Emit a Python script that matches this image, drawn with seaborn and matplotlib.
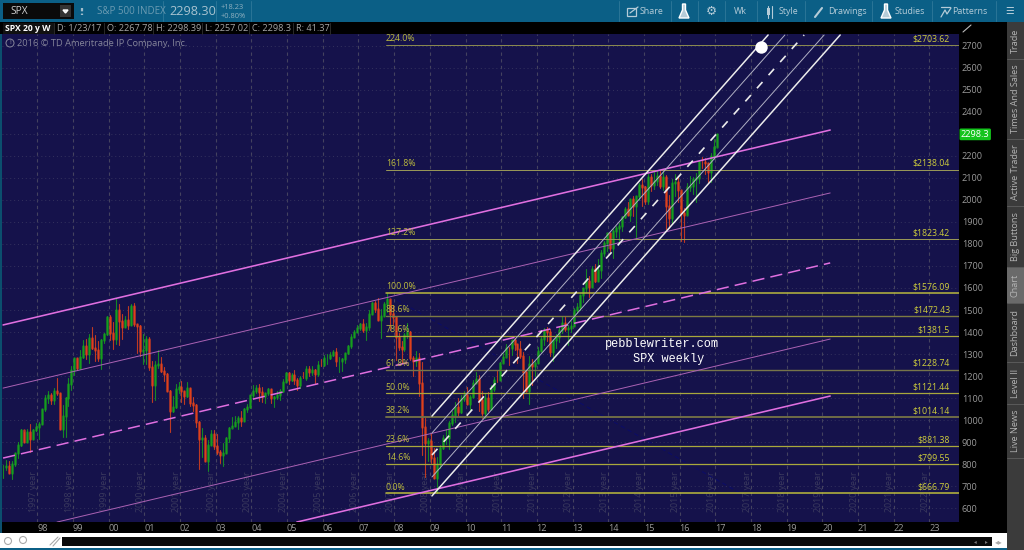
import pandas as pd
import matplotlib
matplotlib.use('Agg')
import matplotlib.pyplot as plt
import matplotlib.transforms as mtrans
from matplotlib.patches import Rectangle, Circle, Polygon
import seaborn as sns
import numpy as np

# month end closes, Jan 1997 -> Jan 2017
close = [786,791,757,801,848,885,954,899,947,915,955,970,
         980,1049,1102,1112,1091,1134,1121,957,1017,1099,1164,1229,
         1280,1238,1286,1335,1302,1373,1329,1320,1283,1363,1389,1469,
         1394,1366,1499,1452,1421,1455,1431,1518,1437,1429,1315,1320,
         1366,1240,1160,1249,1256,1224,1211,1134,1041,1060,1139,1148,
         1130,1107,1147,1077,1067,990,912,916,815,886,936,880,
         856,841,848,917,964,975,990,1008,996,1051,1058,1112,
         1131,1145,1126,1107,1121,1141,1102,1104,1115,1130,1174,1212,
         1181,1204,1181,1157,1192,1191,1234,1220,1229,1207,1249,1248,
         1280,1281,1295,1311,1270,1270,1277,1304,1336,1378,1401,1418,
         1438,1407,1421,1482,1531,1503,1455,1474,1527,1549,1481,1468,
         1379,1331,1323,1386,1400,1280,1267,1283,1166,969,896,903,
         826,735,798,873,919,919,987,1021,1057,1036,1096,1115,
         1074,1104,1169,1187,1089,1031,1102,1049,1141,1183,1181,1258,
         1286,1327,1326,1364,1345,1321,1292,1219,1131,1253,1247,1258,
         1312,1366,1408,1398,1310,1362,1379,1407,1441,1412,1416,1426,
         1498,1515,1569,1598,1631,1606,1686,1633,1682,1757,1806,1848,
         1783,1859,1872,1884,1924,1960,1931,2003,1972,2018,2068,2059,
         1995,2105,2068,2086,2107,2063,2104,1972,1920,2079,2080,2044,
         1940,1932,2060,2065,2097,2099,2174,2171,2168,2126,2199,2239,
         2298]
high = [794,817,815,812,851,898,957,947,960,983,960,986,
        992,1051,1113,1131,1123,1145,1190,1121,1066,1104,1193,1245,
        1284,1284,1317,1362,1368,1391,1421,1386,1361,1370,1397,1473,
        1478,1445,1553,1527,1482,1475,1518,1525,1531,1437,1431,1389,
        1384,1376,1267,1269,1316,1287,1239,1215,1135,1111,1163,1173,
        1176,1131,1174,1147,1106,1075,994,965,933,907,955,955,
        935,865,896,925,966,1015,1016,1019,1040,1054,1071,1112,
        1159,1159,1164,1150,1123,1146,1141,1110,1132,1140,1188,1218,
        1218,1212,1229,1192,1199,1219,1246,1246,1244,1234,1270,1276,
        1295,1298,1310,1319,1326,1285,1281,1306,1340,1390,1407,1432,
        1441,1461,1439,1498,1535,1540,1556,1503,1538,1576,1545,1523,
        1471,1396,1359,1397,1440,1404,1293,1314,1304,1265,1007,917,
        943,875,832,888,930,957,997,1040,1080,1101,1113,1130,
        1151,1113,1181,1220,1206,1132,1120,1129,1159,1197,1228,1263,
        1303,1344,1332,1365,1371,1346,1357,1308,1229,1293,1278,1270,
        1333,1378,1420,1422,1415,1363,1392,1426,1475,1471,1434,1448,
        1510,1531,1570,1598,1687,1654,1698,1710,1730,1772,1814,1849,
        1851,1868,1884,1897,1925,1968,1991,2006,2020,2019,2076,2094,
        2065,2120,2117,2126,2135,2130,2133,2112,2023,2094,2117,2105,
        2039,1962,2076,2111,2104,2121,2178,2194,2193,2170,2214,2278,
        2301]
low = [737,773,757,733,793,829,882,900,899,855,912,948,
       912,980,1042,1077,1075,1074,1113,957,924,923,1065,1137,
       1205,1227,1234,1281,1277,1259,1323,1269,1268,1234,1348,1387,
       1362,1325,1344,1339,1369,1421,1413,1431,1427,1305,1291,1254,
       1254,1228,1081,1091,1237,1218,1178,1131,945,1037,1055,1124,
       1081,1074,1105,1064,1040,968,776,834,815,768,885,870,
       844,806,789,848,901,966,975,960,972,995,1036,1055,
       1100,1125,1087,1083,1076,1113,1079,1060,1095,1090,1127,1173,
       1163,1176,1163,1137,1147,1191,1183,1201,1205,1168,1202,1246,
       1245,1253,1278,1290,1245,1219,1225,1261,1301,1327,1377,1402,
       1410,1400,1364,1408,1481,1490,1455,1371,1473,1489,1407,1436,
       1271,1317,1257,1313,1373,1272,1201,1247,1107,840,741,815,
       805,735,667,783,866,893,869,979,992,1020,1030,1086,
       1072,1045,1105,1170,1040,1011,1011,1040,1050,1131,1173,1180,
       1262,1302,1249,1295,1318,1258,1282,1101,1132,1075,1159,1202,
       1259,1312,1341,1358,1292,1267,1326,1355,1397,1403,1343,1399,
       1426,1485,1501,1537,1581,1560,1605,1628,1633,1646,1747,1768,
       1770,1738,1834,1815,1860,1916,1931,1905,1926,1821,2001,1972,
       1981,1981,2040,2048,2067,2056,2044,1867,1872,1894,2019,1993,
       1812,1810,1938,2039,2025,1992,2075,2147,2120,2084,2084,2187,
       2245]

# fibonacci levels
fib_pct = ['224.0%','161.8%','127.2%','100.0%','88.6%','78.6%','61.8%','50.0%','38.2%','23.6%','14.6%','0.0%']
fib_val = [2703.62,2138.04,1823.42,1576.09,1472.43,1381.5,1228.74,1121.44,1014.14,881.38,799.55,666.79]
fib_txt = ['$2703.62','$2138.04','$1823.42','$1576.09','$1472.43','$1381.5','$1228.74','$1121.44','$1014.14','$881.38','$799.55','$666.79']
fib_col = ['#8d8c50','#9c9b58','#9c9b58','#b9b83f','#7d7b42','#a9a83c','#77754a','#a9a83c','#6f6c46','#a9a83c','#a9a83c','#bdbc3c']
fib_lw = [0.7,0.7,0.7,1.1,1.0,0.9,1.0,0.9,1.4,0.9,0.9,1.1]
fib_start = 2007.77
fib_end = 2023.83

# pink channel (long term), start/end of every line
pink_x0 = [1997.04,1997.04,1997.04,1998.55,2005.27]
pink_y0 = [1432,1145,827,536,536]
pink_x1 = [2020.22,2020.22,2020.22,2020.22,2020.22]
pink_y1 = [2318,2032,1714,1368,1109]
pink_kind = ['thick','thin','dash','thin','thick']

# white channel (since 2009)
white_x0 = [2009.06,2009.06,2009.06,2009.06,2009.06]
white_y0 = [1018,941,841,741,655]
white_x1 = [2018.48,2018.95,2019.49,2020.05,2020.50]
white_y1 = [2750,2750,2750,2750,2750]
white_kind = ['thick','thin','dash','thin','thick']

blue_x = [2008.08,2017.70]
blue_y = [1545,668]
target_x = [2018.28]
target_y = [2695]
last_price = 2298.3

years = list(range(1998,2024))
year_labels = ['98','99','00','01','02','03','04','05','06','07','08','09','10','11','12','13','14','15','16','17','18','19','20','21','22','23']
price_ticks = [600,700,800,900,1000,1100,1200,1300,1400,1500,1600,1700,1800,1900,2000,2100,2200,2300,2400,2500,2600,2700]
# the 2300 label sits under the last price tag
price_labels = ['600','700','800','900','1000','1100','1200','1300','1400','1500','1600','1700','1800','1900','2000','2100','2200','','2400','2500','2600','2700']
tabs = ['Trade','Times And Sales','Active Trader','Big Buttons','Chart','Dashboard','Level II','Live News']
tab_edges = [23,59,139,206,267,303,362,404,458]

navy = '#15124b'
sns.set_style('dark', {'axes.facecolor': navy, 'figure.facecolor': 'black'})
plt.rcParams['font.family'] = ['Open Sans', 'DejaVu Sans']

fig = plt.figure(figsize=(10.24,5.5), dpi=100, facecolor='black')
ax = fig.add_axes([2/1024, 28/550, 957/1024, 488/550])

# bars
dates = 1997.04 + np.arange(len(close))/12
prev = [close[0]] + close[:-1]
bars = pd.DataFrame({'bar':np.arange(len(close)),'date':dates,'low':low,'high':high,'open':prev,'close':close})
bars['dir'] = np.where(bars.close >= bars.open,'up','down')
wick = bars.melt(id_vars=['bar','date','dir'],value_vars=['low','high'],value_name='price')
body = bars.melt(id_vars=['bar','date','dir'],value_vars=['open','close'],value_name='price')
pal = {'up':'#16a51c','down':'#e8431a'}
sns.lineplot(data=wick,x='date',y='price',hue='dir',units='bar',estimator=None,palette=pal,
             linewidth=0.8,alpha=0.8,legend=False,ax=ax,sort=False,zorder=3)
sns.lineplot(data=body,x='date',y='price',hue='dir',units='bar',estimator=None,palette=pal,
             linewidth=1.8,alpha=0.8,legend=False,ax=ax,sort=False,zorder=3)


def seg(x0,y0,x1,y1,color,lw,dash=None,z=5):
    df = pd.DataFrame({'date':[x0,x1],'price':[y0,y1]})
    kw = {} if dash is None else {'linestyle':(0,dash)}
    sns.lineplot(data=df,x='date',y='price',color=color,linewidth=lw,ax=ax,legend=False,
                 estimator=None,sort=False,zorder=z,**kw)


# fib lines
for v,c,w in zip(fib_val,fib_col,fib_lw):
    seg(fib_start,v,fib_end,v,c,w,z=4)

seg(blue_x[0],blue_y[0],blue_x[1],blue_y[1],'#0c0c66',0.8,dash=(4,3),z=2)

# channels
styles = {'thick':(1.15,None),'thin':(0.7,None),'dash':(1.1,(8,4))}
for x0,y0,x1,y1,k in zip(pink_x0,pink_y0,pink_x1,pink_y1,pink_kind):
    lw,d = styles[k]
    seg(x0,y0,x1,y1,'#ab62b4' if k=='thin' else '#e06fe0',lw,dash=d)
styles = {'thick':(1.1,None),'thin':(0.7,None),'dash':(1.2,(5,5.5))}
for x0,y0,x1,y1,k in zip(white_x0,white_y0,white_x1,white_y1,white_kind):
    lw,d = styles[k]
    seg(x0,y0,x1,y1,'#b0b0c4' if k=='thin' else '#ececec',lw,dash=d)
sns.scatterplot(x=target_x,y=target_y,color='white',s=80,linewidth=0,ax=ax,zorder=6,legend=False)

ax.set_xlim(1997.01,2023.83)
ax.set_ylim(536.4,2754.5)
ax.set_xlabel('')
ax.set_ylabel('')
ax.set_xticks(years)
ax.set_xticklabels(year_labels)
ax.set_yticks(price_ticks)
ax.set_yticklabels(price_labels)
ax.yaxis.tick_right()
ax.grid(axis='x',color='#44425f',linestyle=(0,(3,3)),linewidth=0.8)
ax.grid(axis='y',color='#34325e',linestyle=(0,(1,3)),linewidth=0.7)
ax.set_axisbelow(True)
ax.tick_params(axis='both',length=0,labelsize=6.6,labelcolor='#9a9a9a')
ax.tick_params(axis='y',pad=2)
ax.tick_params(axis='x',pad=1.5)
for s in ax.spines.values():
    s.set_visible(False)
off = mtrans.ScaledTranslation(5/100,0,fig.dpi_scale_trans)
for t in ax.get_xticklabels():
    t.set_transform(t.get_transform()+off)

# year watermarks
for y in years:
    ax.text(y-0.11,582,f'{y-1} year',rotation=90,ha='center',va='bottom',fontsize=6.4,color='#3b3a5e',zorder=1)

# fib labels
for p,v,t in zip(fib_pct,fib_val,fib_txt):
    ax.text(fib_start,v+8,p,ha='left',va='bottom',fontsize=6.3,color='#bdbc3e',zorder=7)
    ax.text(2023.58,v+8,t,ha='right',va='bottom',fontsize=6.3,color='#cfce3c',zorder=7)

ax.text(2013.91,1345,'pebblewriter.com',family='Liberation Mono',fontsize=8.6,color='white',va='center',zorder=8)
ax.text(2014.70,1277,'SPX weekly',family='Liberation Mono',fontsize=8.6,color='white',va='center',zorder=8)

ax.text(1.002,last_price,'2298.3',transform=ax.get_yaxis_transform(),fontsize=6.6,color='white',va='center',ha='left',
        bbox=dict(boxstyle='round,pad=0.15',fc='#14c41c',ec='none'),clip_on=False,zorder=9)

# platform chrome on top, pixel coordinates
ui = fig.add_axes([0,0,1,1],facecolor='none')
ui.set_xlim(0,1024)
ui.set_ylim(550,0)
ui.axis('off')


def box(x,y,w,h,c,z=1):
    ui.add_patch(Rectangle((x,y),w,h,fc=c,ec='none',zorder=z))


def label(x,y,s,c='#a8a8a8',size=6.5,**kw):
    kw.setdefault('va','center')
    ui.text(x,y,s,color=c,fontsize=size,zorder=5,**kw)


teal = '#0b5f86'
box(0,0,1024,22,teal)
box(0,34,2,516,'#0b4f6e')
for x in [163,216,251,618.5,670.5,698,725,757,805,872,932,996]:
    ui.plot([x,x],[1,21],color='#2a7597',lw=0.7,zorder=2)
box(3,3,71,16,'#0a0a0a',2)
box(60,5,11,12,'#333333',3)
ui.add_patch(Polygon([[63,10],[68,10],[65.5,13]],fc='#dddddd',zorder=4))
label(10,11,'SPX','#d0d0d0',7.3)
ui.plot([82,82],[8,15],color='#a0bccb',lw=1.6,ls=(0,(1.5,1)),zorder=3)
label(97,11.5,'S&P 500 INDEX','#6b9bb2',7)
label(169,11.5,'2298.30','#a8c3d0',9.2)
label(221,7.5,'+18.23','#8fb0c0',5.4)
label(221,16.5,'+0.80%','#8fb0c0',5.4)
tc = '#b5ccd8'
for x,s in [(651.5,'Share'),(740,'Wk'),(788.5,'Style'),(847,'Drawings'),(910,'Studies'),(970,'Patterns')]:
    label(x,12,s,tc,6.4,ha='center')
label(711,11.5,'\u2699',tc,9,ha='center',family='DejaVu Sans')
label(1010,11.5,'\u2630',tc,7,ha='center',family='DejaVu Sans')
for x in [684,886]:
    ui.add_patch(Polygon([[x-1.5,4],[x+1.5,4],[x+1.5,10],[x+5,18],[x-5,18],[x-1.5,10]],fc=tc,zorder=3))
ui.plot([768,768],[6,18],color=tc,lw=0.8,zorder=3)
ui.plot([772,772],[6,18],color=tc,lw=0.8,zorder=3)
box(766.5,8,3,7,tc,3)
ui.plot([815,822],[17,8],color=tc,lw=1.5,zorder=3)
ui.plot([941,950],[7,7],color=tc,lw=0.9,zorder=3)
ui.plot([941,945,947,951],[17,10,14,8],color=tc,lw=0.9,zorder=3)
ui.add_patch(Rectangle((627,8),9,8,fc='none',ec=tc,lw=0.9,zorder=3))
ui.plot([630,638],[13,7],color=tc,lw=0.9,zorder=3)

box(0,22,1006,12,'black')
box(3,23,51,11,'#111111',2)
label(5,28.5,'SPX 20 y W','white',6.2,weight='bold')
for x,s in [(57,'D: 1/23/17'),(107,'O: 2267.78'),(156,'H: 2298.39'),(205,'L: 2257.02'),(252,'C: 2298.3'),(296,'R: 41.37')]:
    label(x,28.5,s,'#a6a6a6',6.6)
    ui.plot([x-3,x-3],[23,34],color='#2a2a2a',lw=0.7,zorder=3)
ui.plot([330,330],[23,34],color='#2a2a2a',lw=0.7,zorder=3)
ui.add_patch(Circle((10,43),4,fc='none',ec='#85859a',lw=0.7,zorder=3))
label(10,43,'!','#85859a',5,ha='center')
label(17,43,'2016 \u00a9 TD Ameritrade IP Company, Inc.','#85859a',6.7)
ui.plot([963,971],[32,25],color='#bbbbbb',lw=0.8,zorder=3)

# scroll strip
box(0,533,1007,14.5,'white')
box(62,537,930,9,'#0a0a0a',2)
box(0,547.5,1007,2.5,'#0b5f86')
ui.add_patch(Circle((8,541),3.5,fc='none',ec='#aaaaaa',lw=0.8,zorder=3))
ui.add_patch(Circle((23,540),3.5,fc='none',ec='#aaaaaa',lw=0.8,zorder=3))
ui.plot([50,58],[545,537],color='#aaaaaa',lw=0.8,zorder=3)
ui.plot([53,60],[546,538],color='#aaaaaa',lw=0.8,zorder=3)
label(975,541.5,'\u25c2','#777777',4,ha='center',family='DejaVu Sans')
label(986,541.5,'\u25b8','#777777',4,ha='center',family='DejaVu Sans')
label(999,541.5,'\u25c2\u25b8','#aaaaaa',5.5,ha='center',family='DejaVu Sans')

# side tabs
box(1007,22,17,528,'#3b3b3b')
for i,t in enumerate(tabs):
    top,bot = tab_edges[i],tab_edges[i+1]
    if t == 'Chart':
        box(1007,top,17,bot-top,'#6a6a6a',2)
    ui.plot([1007,1024],[bot,bot],color='#5a5a5a',lw=0.7,zorder=3)
    label(1015,(top+bot)/2,t,'#b4b4b4',6.6,rotation=90,ha='center')

fig.savefig('out.png',dpi=100,facecolor='black')
